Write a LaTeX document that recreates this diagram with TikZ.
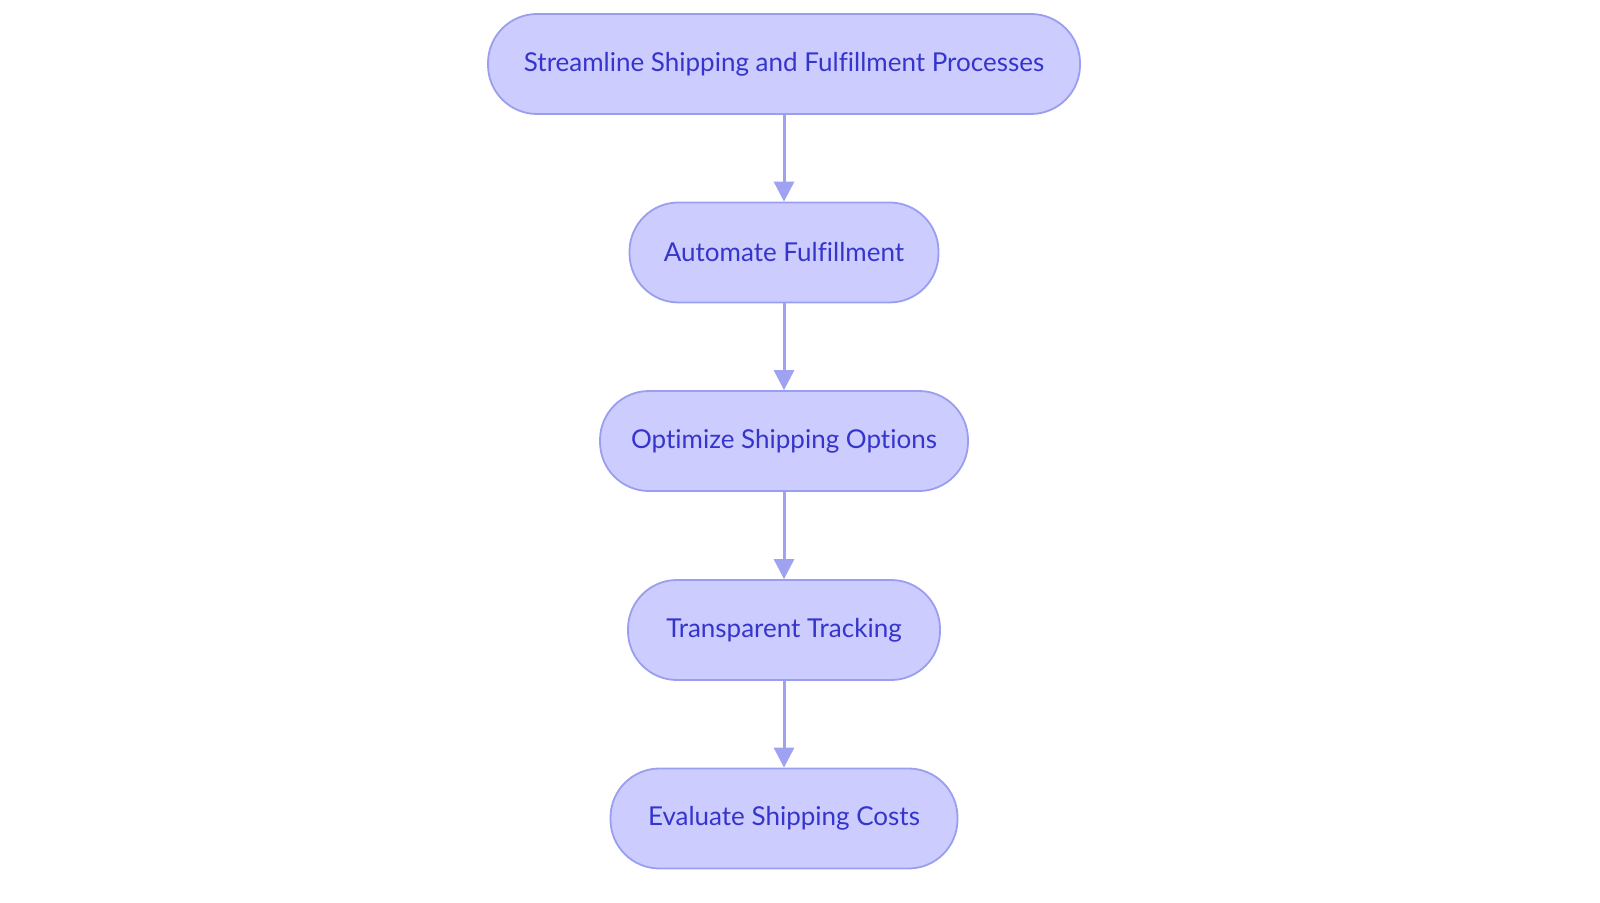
\documentclass[tikz,border=0pt]{standalone}
\usepackage{fontspec}
\setmainfont{Lato}[Ligatures=NoCommon]
\usetikzlibrary{arrows.meta}
\definecolor{boxfill}{HTML}{CCCCFF}
\definecolor{boxline}{HTML}{9A9EEE}
\definecolor{boxtext}{HTML}{3535CC}
\definecolor{arrowc}{HTML}{9EA2F0}
\begin{document}
\begin{tikzpicture}[x=1pt,y=1pt,
  stepbox/.style={draw=boxline, line width=0.9pt, fill=boxfill, rounded corners=24.5pt,
    minimum height=50pt, inner sep=0pt, text=boxtext, font=\fontsize{13}{15}\selectfont},
  flow/.style={draw=arrowc, line width=1.5pt, -{Triangle[length=10pt,width=10pt]}}]
\useasboundingbox (0,0) rectangle (800,-451.5);
\node[stepbox, minimum width=296pt] (a) at (392,-32) {Streamline Shipping and Fulfillment Processes};
\node[stepbox, minimum width=154.5pt] (b) at (392,-126.25) {Automate Fulfillment};
\node[stepbox, minimum width=184pt] (c) at (392,-220.5) {Optimize Shipping Options};
\node[stepbox, minimum width=156pt] (d) at (392,-315) {Transparent Tracking};
\node[stepbox, minimum width=173.5pt] (e) at (392,-409.25) {Evaluate Shipping Costs};
\draw[flow] (a) -- (b);
\draw[flow] (b) -- (c);
\draw[flow] (c) -- (d);
\draw[flow] (d) -- (e);
\end{tikzpicture}
\end{document}
